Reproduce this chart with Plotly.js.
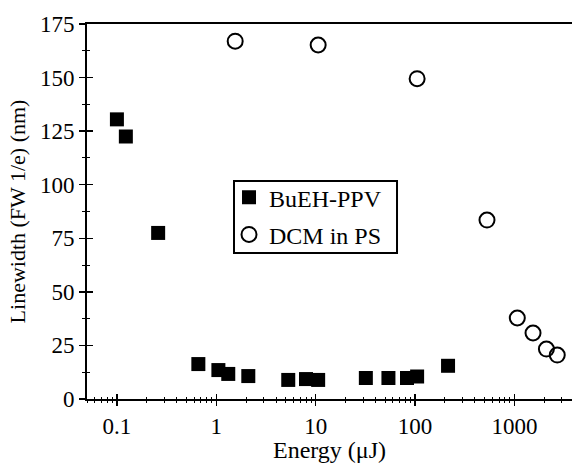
<!DOCTYPE html>
<html>
<head>
<meta charset="utf-8">
<script src="https://cdn.plot.ly/plotly-3.0.1.min.js"></script>
<style>html,body{margin:0;padding:0;background:#fff;}#chart{width:572px;height:463px;}</style>
</head>
<body>
<div id="chart"></div>
<script>
const ppvEnergy = [0.1, 0.123, 0.26, 0.66, 1.05, 1.32, 2.1, 5.3, 8, 10.6, 32, 54, 83, 105, 215];
const ppvWidth  = [130.5, 122.5, 77.5, 16.3, 13.5, 11.7, 10.7, 8.9, 9.3, 8.9, 9.8, 9.8, 9.8, 10.5, 15.5];
const dcmEnergy = [1.55, 10.6, 105, 530, 1070, 1540, 2100, 2700];
const dcmWidth  = [167, 165.2, 149.5, 83.5, 37.8, 30.8, 23.3, 20.5];
const yTicks = [0, 25, 50, 75, 100, 125, 150, 175];
const xTickVals = [0.1, 1, 10, 100, 1000];
const xTickText = ['0.1', '1', '10', '100', '1000'];

const FONT = 'Liberation Serif, Times New Roman, serif';
const FS = 23;
const xr = [Math.log10(0.05), Math.log10(3800)];
const yr = [0, 175];

const traces = [
  {x: ppvEnergy, y: ppvWidth, type: 'scatter', mode: 'markers', name: 'BuEH-PPV',
   legendgroup: 'a',
   marker: {symbol: 'square', size: 14, color: '#000'}},
  {x: dcmEnergy, y: dcmWidth, type: 'scatter', mode: 'markers', name: 'DCM in PS',
   legendgroup: 'b',
   marker: {symbol: 'circle-open', size: 15, color: '#000', line: {width: 2, color: '#000'}}},
  {x: [], y: [], xaxis: 'x2', yaxis: 'y2', showlegend: false, hoverinfo: 'skip', type: 'scatter'}
];

const layout = {
  width: 572, height: 463,
  margin: {l: 87, r: 0, t: 24, b: 64},
  paper_bgcolor: '#fff', plot_bgcolor: '#fff',
  font: {family: FONT, size: FS, color: '#000'},
  showlegend: true,
  legend: {x: 0.2928, y: 0.597, xanchor: 'left', yanchor: 'top',
           borderwidth: 0, bgcolor: 'rgba(0,0,0,0)',
           font: {family: FONT, size: 24, color: '#000'},
           traceorder: 'grouped', tracegroupgap: 3, itemwidth: 30},
  shapes: [{type: 'rect', xref: 'paper', yref: 'paper',
            x0: 0.3031, x1: 0.6392, y0: 0.3893, y1: 0.5813,
            line: {color: '#000', width: 2}, fillcolor: 'rgba(0,0,0,0)', layer: 'above'}],
  xaxis: {type: 'log', range: xr, tickvals: xTickVals, ticktext: xTickText,
          ticks: 'outside', ticklen: 5, tickwidth: 1.5, tickcolor: '#000',
          minor: {ticks: 'outside', ticklen: 2, tickwidth: 1, tickcolor: '#000', dtick: 'D1'},
          showline: true, linewidth: 2, linecolor: '#000', mirror: true,
          showgrid: false, zeroline: false,
          tickfont: {family: FONT, size: FS},
          title: {text: 'Energy (μJ)', font: {family: FONT, size: 24}, standoff: 4}},
  yaxis: {range: yr, tickvals: yTicks, ticks: 'outside', ticklen: 6, tickwidth: 1.5, tickcolor: '#000',
          minor: {ticks: 'outside', ticklen: 3, tickwidth: 1, tickcolor: '#000', dtick: 12.5},
          showline: true, linewidth: 2, linecolor: '#000', mirror: false,
          showgrid: false, zeroline: false,
          tickfont: {family: FONT, size: FS},
          title: {text: 'Linewidth (FW 1/e) (nm)', font: {family: FONT, size: 22}, standoff: 8}},
  xaxis2: {type: 'log', range: xr, overlaying: 'x', anchor: 'y2', side: 'bottom',
           tickvals: xTickVals, showticklabels: false,
           ticks: 'inside', ticklen: 5, tickwidth: 1.5, tickcolor: '#000',
           minor: {ticks: 'inside', ticklen: 2, tickwidth: 1, tickcolor: '#000', dtick: 'D1'},
           showline: false, showgrid: false, zeroline: false},
  yaxis2: {range: yr, overlaying: 'y', anchor: 'x2', side: 'left',
           tickvals: yTicks, showticklabels: false,
           ticks: 'inside', ticklen: 6, tickwidth: 1.5, tickcolor: '#000',
           minor: {ticks: 'inside', ticklen: 3, tickwidth: 1, tickcolor: '#000', dtick: 12.5},
           showline: false, showgrid: false, zeroline: false}
};

Plotly.newPlot('chart', traces, layout, {displayModeBar: false, staticPlot: true});
</script>
</body>
</html>
